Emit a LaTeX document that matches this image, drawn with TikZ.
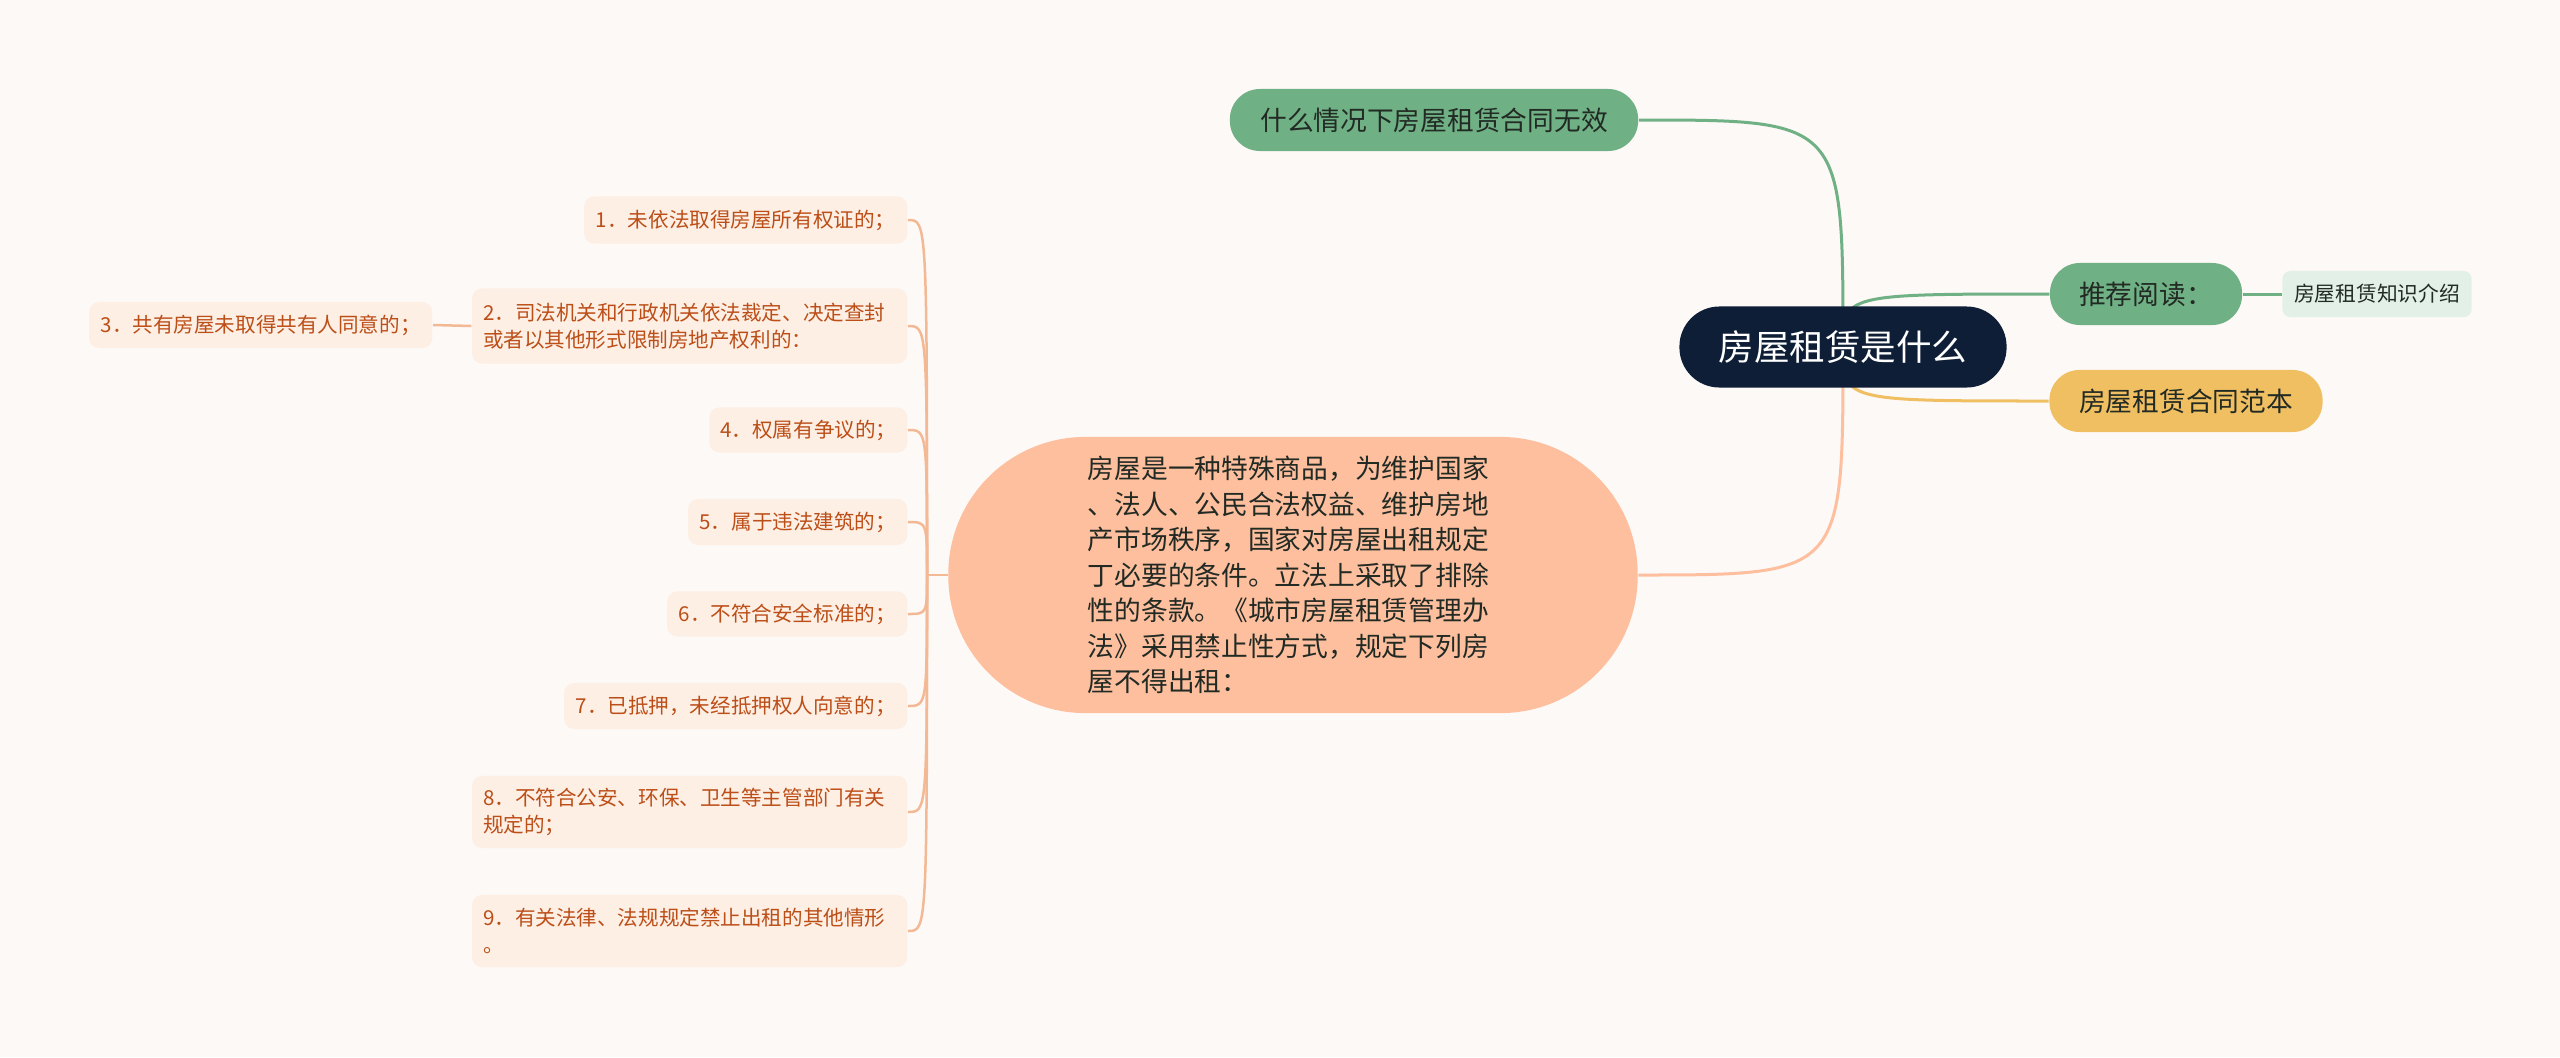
\documentclass[tikz,border=0pt]{standalone}
\usepackage{fontspec}
\setmainfont{Noto Sans CJK SC}
\usepackage{xcolor}
\usepackage{tikz}

\definecolor{paper}{HTML}{FDF9F7}
\definecolor{rootnavy}{HTML}{0E1E36}
\definecolor{mapgreen}{HTML}{70B085}
\definecolor{palegreen}{HTML}{E3F0E7}
\definecolor{mapyellow}{HTML}{F0BF62}
\definecolor{peach}{HTML}{FDBF9E}
\definecolor{leaffill}{HTML}{FDEFE4}
\definecolor{leaftext}{HTML}{BC4E18}
\definecolor{leafline}{HTML}{F3B995}
\definecolor{inktext}{HTML}{222A24}

\pgfdeclarelayer{back}
\pgfdeclarelayer{links}
\pgfsetlayers{back,links,main}

\begin{document}
\begin{tikzpicture}[x=0.01cm, y=-0.01cm,
  rootbox/.style={rounded corners=0.4cm, fill=rootnavy, text=white, minimum width=3.27cm, minimum height=0.81cm, font=\fontsize{10.1}{12}\selectfont},
  greenbox/.style={rounded corners=0.3cm, fill=mapgreen, text=inktext, minimum height=0.62cm, font=\fontsize{7.6}{9}\selectfont},
  yellowbox/.style={rounded corners=0.3cm, fill=mapyellow, text=inktext, minimum height=0.62cm, font=\fontsize{7.6}{9}\selectfont},
  tipbox/.style={rounded corners=0.08cm, fill=palegreen, text=inktext, minimum height=0.46cm, font=\fontsize{5.9}{7}\selectfont},
  leaf/.style={rounded corners=0.1cm, fill=leaffill, text=leaftext, anchor=east, inner xsep=0.11cm, font=\fontsize{5.85}{7.6}\selectfont},
  link/.style={line width=0.03cm},
  leaflink/.style={leafline, line width=0.025cm}]

% page
\begin{pgfonlayer}{back}
\fill[paper] (0,0) rectangle (2560,1057);
\end{pgfonlayer}
\useasboundingbox (0,0) rectangle (2560,1057);

% Root and right side
\node[rootbox] (root) at (1843,347) {房屋租赁是什么};
\node[greenbox, minimum width=4.08cm] (invalid) at (1434,120) {什么情况下房屋租赁合同无效};
\node[greenbox, minimum width=1.92cm] (read) at (2146,294) {推荐阅读：};
\node[tipbox, minimum width=1.87cm] (know) at (2377,294) {房屋租赁知识介绍};
\node[yellowbox, minimum width=2.73cm] (sample) at (2186,401) {房屋租赁合同范本};

% Main text node
\node[rounded corners=1.37cm, fill=peach, text=inktext, minimum width=6.89cm, minimum height=2.76cm,
  text width=4.1cm, align=left, font=\fontsize{7.6}{10.1}\selectfont] (rule) at (1293,575)
  {房屋是一种特殊商品，为维护国家\\、法人、公民合法权益、维护房地\\产市场秩序，国家对房屋出租规定\\丁必要的条件。立法上采取了排除\\性的条款。《城市房屋租赁管理办\\法》采用禁止性方式，规定下列房\\屋不得出租：};

% Left leaves
\node[leaf, minimum width=3.23cm, minimum height=0.47cm] (l1) at (908,220) {1．未依法取得房屋所有权证的；};
\node[leaf, minimum width=4.35cm, minimum height=0.75cm, text width=4.13cm, align=left] (l2) at (908,326) {2．司法机关和行政机关依法裁定、决定查封\\或者以其他形式限制房地产权利的：};
\node[leaf, minimum width=3.43cm, minimum height=0.46cm] (l3) at (433,325) {3．共有房屋未取得共有人同意的；};
\node[leaf, minimum width=1.97cm, minimum height=0.45cm] (l4) at (908,430) {4．权属有争议的；};
\node[leaf, minimum width=2.19cm, minimum height=0.46cm] (l5) at (908,522) {5．属于违法建筑的；};
\node[leaf, minimum width=2.40cm, minimum height=0.45cm] (l6) at (908,614) {6．不符合安全标准的；};
\node[leaf, minimum width=3.43cm, minimum height=0.46cm] (l7) at (908,706) {7．已抵押，未经抵押权人向意的；};
\node[leaf, minimum width=4.35cm, minimum height=0.72cm, text width=4.13cm, align=left] (l8) at (908,812) {8．不符合公安、环保、卫生等主管部门有关\\规定的；};
\node[leaf, minimum width=4.35cm, minimum height=0.72cm, text width=4.13cm, align=left] (l9) at (908,931) {9．有关法律、法规规定禁止出租的其他情形\\。};

\coordinate (hub) at (927,575);

% connectors
\begin{pgfonlayer}{links}
\draw[link, mapgreen] (root.center) .. controls (root.center |- invalid.east) .. (invalid.east);
\draw[link, mapgreen] (root.center) .. controls (root.center |- read.west) .. (read.west);
\draw[link, mapgreen] (read.east) -- (know.west);
\draw[link, mapyellow] (root.center) .. controls (root.center |- sample.west) .. (sample.west);
\draw[link, peach] (root.center) .. controls (root.center |- rule.east) .. (rule.east);
\draw[leaflink] (rule.west) -- (hub);
\foreach \n in {l1,l2,l4,l5,l6,l7,l8,l9}
  \draw[leaflink] (hub) .. controls (hub |- \n.east) .. (\n.east);
\draw[leaflink] (l2.west) -- (l3.east);
\end{pgfonlayer}
\end{tikzpicture}
\end{document}
